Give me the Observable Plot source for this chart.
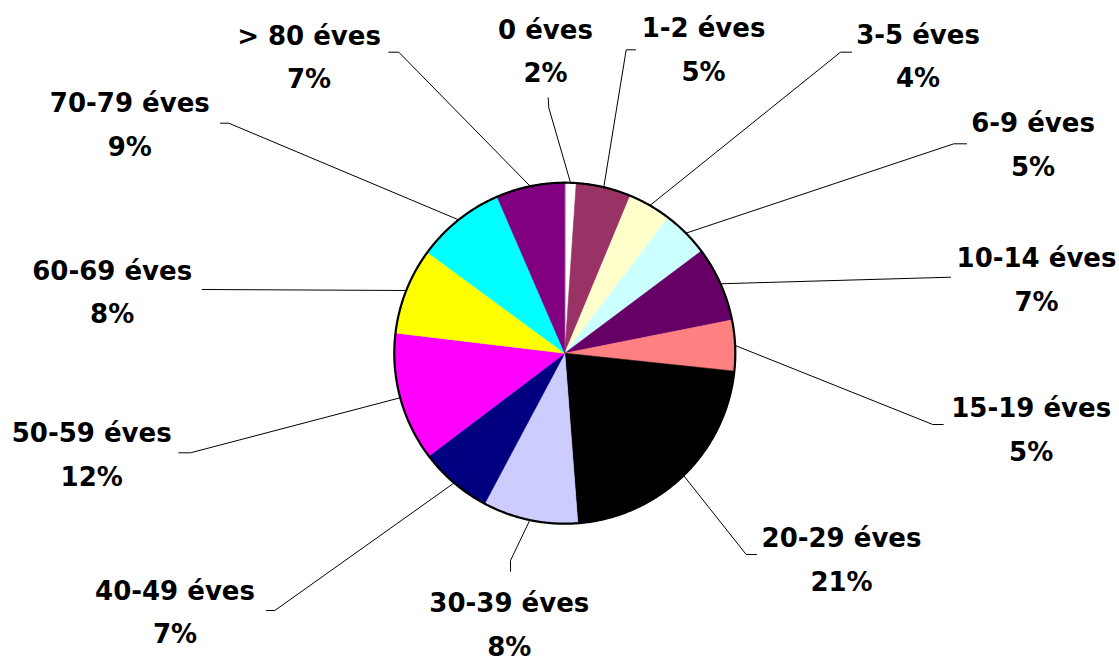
<!DOCTYPE html>
<html>
<head>
<meta charset="utf-8">
<script src="https://cdn.jsdelivr.net/npm/d3@7"></script>
<script src="https://cdn.jsdelivr.net/npm/@observablehq/plot@0.6"></script>
<style>
  html, body { margin: 0; padding: 0; background: #ffffff; }
  #chart svg { display: block; }
</style>
</head>
<body>
<div id="chart"></div>
<script>
// ---- data ----
const ageGroups = ["0 éves", "1-2 éves", "3-5 éves", "6-9 éves", "10-14 éves", "15-19 éves",
  "20-29 éves", "30-39 éves", "40-49 éves", "50-59 éves", "60-69 éves", "70-79 éves", "> 80 éves"];
// slice sizes as drawn (share of the full circle, %)
const shares = [1.07, 5.2, 4.1, 4.4, 7.1, 4.8, 22.1, 9.0, 6.9, 12.2, 8.2, 8.4, 6.5];
// percentages printed in the data labels
const percentLabels = ["2%", "5%", "4%", "5%", "7%", "5%", "21%", "8%", "7%", "12%", "8%", "9%", "7%"];
const sliceColors = ["#FFFFFF", "#993366", "#FFFFCC", "#CCFFFF", "#660066", "#FF8080",
  "#000000", "#CCCCFF", "#000080", "#FF00FF", "#FFFF00", "#00FFFF", "#800080"];

// ---- layout (offsets from the pie centre, in plot units) ----
const R = 170.5;
const labelPos = [
  [-19.3, -345.4], [138.7, -347], [353.2, -340.4], [468.2, -252], [471.7, -117],
  [466.4, 33], [276.7, 163], [-55.5, 228], [-389.8, 215.6], [-473.1, 58],
  [-452.6, -104.4], [-435, -272], [-255.8, -339.7]
];
const leaderBends = [
  [[-16, -245.4], [-16.6, -255.4]],
  [[61.4, -303.4], [70.7, -303.4]],
  [[275.7, -301], [286.7, -301]],
  [[389, -209.4], [401.7, -209.4]],
  [[385.7, -76]],
  [[368, 71.3], [378.4, 71.3]],
  [[181.4, 201.3], [191.7, 201.3]],
  [[-54.3, 207.3], [-54.3, 218]],
  [[-290, 257.3], [-298.3, 257.3]],
  [[-374.3, 99.6], [-386, 99.6]],
  [[-362.6, -63.7]],
  [[-336, -230], [-344.3, -230]],
  [[-166, -301], [-176, -301]]
];

const rows = ageGroups.map((g, i) => ({key: g, share: shares[i], pct: percentLabels[i], color: sliceColors[i], i}));
const arcs = d3.pie().sort(null).value(d => d.share)(rows);

const slicePts = [];
const leaderPts = [];
arcs.forEach(a => {
  const d = a.data;
  slicePts.push({key: d.key, color: d.color, x: 0, y: 0});
  const n = Math.max(2, Math.ceil((a.endAngle - a.startAngle) / (Math.PI / 360)));
  for (let k = 0; k <= n; k++) {
    const t = a.startAngle + (a.endAngle - a.startAngle) * k / n;
    slicePts.push({key: d.key, color: d.color, x: R * Math.sin(t), y: -R * Math.cos(t)});
  }
  const mid = (a.startAngle + a.endAngle) / 2;
  leaderPts.push({key: d.key, x: R * Math.sin(mid), y: -R * Math.cos(mid)});
  leaderBends[d.i].forEach(([x, y]) => leaderPts.push({key: d.key, x, y}));
});

const circlePts = d3.range(0, 721).map(k => {
  const t = k / 720 * 2 * Math.PI;
  return {x: R * Math.sin(t), y: -R * Math.cos(t)};
});

const labels = rows.map(d => ({x: labelPos[d.i][0], y: labelPos[d.i][1], text: d.key + "\n" + d.pct}));

const chart = Plot.plot({
  width: 1119,
  height: 656,
  margin: 0,
  x: {domain: [-564.3, 554.7], axis: null},
  y: {domain: [303.3, -352.7], axis: null},
  color: {type: "identity"},
  marks: [
    Plot.line(slicePts, {x: "x", y: "y", z: "key", fill: "color", stroke: "color", strokeWidth: 0.6, curve: "linear-closed"}),
    Plot.line(circlePts, {x: "x", y: "y", stroke: "#000000", strokeWidth: 2.2, curve: "linear-closed"}),
    Plot.line(leaderPts, {x: "x", y: "y", z: "key", stroke: "#000000", strokeWidth: 1}),
    Plot.text(labels, {x: "x", y: "y", text: "text", lineAnchor: "top", textAnchor: "middle",
      fontSize: 26, fontWeight: "bold", fontFamily: "DejaVu Sans", lineHeight: 1.68, fill: "#000000"})
  ]
});
document.getElementById("chart").appendChild(chart);
</script>
</body>
</html>
